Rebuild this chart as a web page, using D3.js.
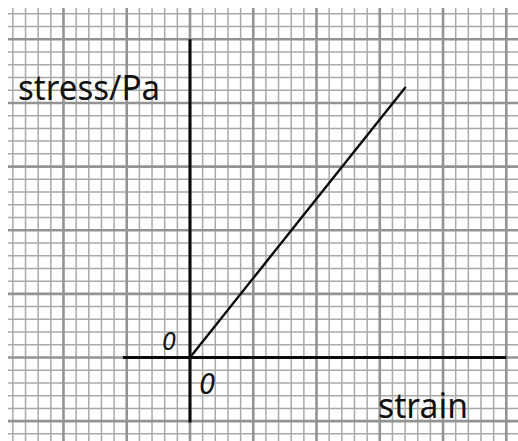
<!DOCTYPE html>
<html>
<head>
<meta charset="utf-8">
<script src="https://cdn.jsdelivr.net/npm/d3@7"></script>
<style>
html,body{margin:0;padding:0;background:#fff;}
svg{display:block;}
</style>
</head>
<body>
<svg id="chart" width="518" height="441"></svg>
<script>
// ---- data (graph-paper squares) ----
const strain = [0, 17];
const stress = [0, 21.2];
const xAxisExtent = [-5.3, 25];
const yAxisExtent = [-5.1, 25];
const xLabel = "strain";
const yLabel = "stress/Pa";
const xZeroLabel = "0";
const yZeroLabel = "0";

const W = 518, H = 441;
const svg = d3.select("#chart");

const x = d3.scaleLinear().domain([0, 25]).range([190, 506.3]);
const y = d3.scaleLinear().domain([0, 25]).range([357.5, 39.3]);

// paper region
const paper = {x0: 8, y0: 8, x1: W, y1: H};
const g = svg.append("g");
g.append("rect").attr("width", W).attr("height", H).attr("fill", "#fff");

svg.append("clipPath").attr("id", "paper")
  .append("rect").attr("x", paper.x0).attr("y", paper.y0)
  .attr("width", paper.x1 - paper.x0).attr("height", paper.y1 - paper.y0);

const grid = g.append("g").attr("clip-path", "url(#paper)");
const xs = d3.range(Math.ceil(x.invert(0)), Math.floor(x.invert(W)) + 1);
const ys = d3.range(Math.ceil(y.invert(H)), Math.floor(y.invert(0)) + 1);

function isMajor(v){ return ((v % 5) + 5) % 5 === 0; }

[false, true].forEach(major => {
  grid.selectAll(null).data(xs.filter(v => isMajor(v) === major)).enter().append("line")
    .attr("x1", d => x(d)).attr("x2", d => x(d))
    .attr("y1", paper.y0).attr("y2", paper.y1)
    .attr("stroke", major ? "#939393" : "#a9a9a9")
    .attr("stroke-width", major ? 2.6 : 1.5);
  grid.selectAll(null).data(ys.filter(v => isMajor(v) === major)).enter().append("line")
    .attr("y1", d => y(d)).attr("y2", d => y(d))
    .attr("x1", paper.x0).attr("x2", paper.x1)
    .attr("stroke", major ? "#939393" : "#a9a9a9")
    .attr("stroke-width", major ? 2.6 : 1.5);
});

// axes
g.append("line")
  .attr("x1", x(0)).attr("x2", x(0))
  .attr("y1", y(yAxisExtent[1])).attr("y2", y(yAxisExtent[0]))
  .attr("stroke", "#0a0a0a").attr("stroke-width", 3);
g.append("line")
  .attr("x1", x(xAxisExtent[0])).attr("x2", x(xAxisExtent[1]))
  .attr("y1", y(0)).attr("y2", y(0))
  .attr("stroke", "#0a0a0a").attr("stroke-width", 3);

// data line
const pts = strain.map((s, i) => [s, stress[i]]);
g.append("path")
  .datum(pts)
  .attr("d", d3.line().x(d => x(d[0])).y(d => y(d[1])))
  .attr("fill", "none")
  .attr("stroke", "#0a0a0a")
  .attr("stroke-width", 2.4)
  .attr("stroke-linecap", "round");

// labels
const font = "'Noto Sans', 'DejaVu Sans', sans-serif";
g.append("text")
  .attr("x", 18).attr("y", 100)
  .attr("font-family", font).attr("font-size", 34)
  .attr("textLength", 142).attr("lengthAdjust", "spacingAndGlyphs")
  .attr("fill", "#111")
  .text(yLabel);
g.append("text")
  .attr("x", 378).attr("y", 418)
  .attr("font-family", font).attr("font-size", 34)
  .attr("textLength", 90).attr("lengthAdjust", "spacingAndGlyphs")
  .attr("fill", "#111")
  .text(xLabel);
g.append("text")
  .attr("x", 169).attr("y", 350)
  .attr("text-anchor", "middle")
  .attr("font-family", font).attr("font-size", 25).attr("font-style", "italic")
  .attr("fill", "#111")
  .text(yZeroLabel);
g.append("text")
  .attr("x", 207).attr("y", 394)
  .attr("text-anchor", "middle")
  .attr("font-family", font).attr("font-size", 29).attr("font-style", "italic")
  .attr("fill", "#111")
  .text(xZeroLabel);
</script>
</body>
</html>
